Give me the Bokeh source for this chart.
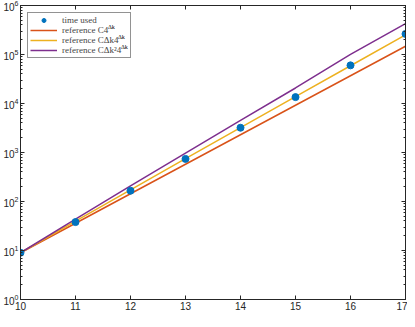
from bokeh.plotting import figure
from bokeh.models import (LogAxis, LinearAxis, LogTicker, FixedTicker, Legend, LegendItem,
                          Range1d, CustomJSTickFormatter, Label)
from bokeh.embed import file_html
from bokeh.resources import INLINE

k = [10, 11, 12, 13, 14, 15, 16, 17]
time_used = [9, 38, 166, 740, 3200, 13500, 60000, 263000]
ref_4k = [9, 36, 144, 576, 2304, 9216, 36864, 147456]
ref_k4k = [9, 39.6, 172.8, 748.8, 3225.6, 13824, 58982, 250675]
ref_k24k = [9, 43.56, 207.36, 973.44, 4515.84, 20736, 100270, 426148]

labels = ["time used", "reference C4", "reference C\u0394k4", "reference C\u0394k\u00b24"]
sup_text = "\u0394k"

BLUE = "#0072BD"
ORANGE = "#D95319"
YELLOW = "#EDB120"
PURPLE = "#7E2F8E"

FW, FH = 385, 294
p = figure(frame_width=FW, frame_height=FH, output_backend="svg", toolbar_location=None,
           y_axis_type="log", x_range=Range1d(10, 17), y_range=Range1d(1, 1e6),
           min_border_left=0, min_border_right=2, min_border_top=5, min_border_bottom=0)
p.outline_line_color = "#262626"
p.outline_line_width = 0.8
p.grid.visible = False
p.background_fill_color = "white"

r1 = p.line(k, ref_4k, line_color=ORANGE, line_width=1.5)
r2 = p.line(k, ref_k4k, line_color=YELLOW, line_width=1.5)
r3 = p.line(k, ref_k24k, line_color=PURPLE, line_width=1.5)
r0 = p.scatter(k, time_used, size=7, marker="circle", fill_color=BLUE, line_color=BLUE)

for ax in p.xaxis:
    ax.ticker = FixedTicker(ticks=k)
for ax in p.yaxis:
    ax.ticker = LogTicker(num_minor_ticks=10)

def style(ax):
    ax.axis_line_color = "#262626"
    ax.major_tick_in = 4
    ax.major_tick_out = 0
    ax.minor_tick_in = 2
    ax.minor_tick_out = 0
    ax.major_tick_line_color = "#262626"
    ax.minor_tick_line_color = "#262626"
    ax.major_label_text_font = "Liberation Sans"
    ax.major_label_text_font_size = "10px"
    ax.major_label_text_color = "#262626"
    ax.major_label_standoff = 2

for ax in p.xaxis + p.yaxis:
    style(ax)

ra = LogAxis(ticker=LogTicker(num_minor_ticks=10), formatter=CustomJSTickFormatter(code="return '';"))
style(ra)
ra.major_label_standoff = 0
p.add_layout(ra, "right")
ta = LinearAxis(ticker=FixedTicker(ticks=k), formatter=CustomJSTickFormatter(code="return '';"))
style(ta)
ta.major_label_standoff = 0
p.add_layout(ta, "above")

legend = Legend(items=[LegendItem(label=labels[0], renderers=[r0]),
                       LegendItem(label=labels[1], renderers=[r1]),
                       LegendItem(label=labels[2], renderers=[r2]),
                       LegendItem(label=labels[3], renderers=[r3])],
                location="top_left")
legend.label_text_font = "Liberation Serif"
legend.label_text_font_size = "9px"
legend.label_height = 10
legend.glyph_height = 10
legend.glyph_width = 27
legend.label_width = 66
legend.spacing = 0
legend.padding = 2
legend.margin = 7
legend.label_standoff = 5
legend.border_line_color = "#262626"
legend.border_line_width = 0.8
legend.background_fill_alpha = 0.0
p.add_layout(legend)

# superscript "Δk" after each reference label (positions in frame pixels)
px_x = FW / 7.0
px_dec = FH / 6.0
sup_px = [(87.5, 21), (97.5, 31), (100.5, 41)]
for sx, sy in sup_px:
    p.add_layout(Label(x=10 + sx / px_x, y=10 ** (6 - sy / px_dec), text=sup_text,
                       text_font="Liberation Serif", text_font_size="6px",
                       text_baseline="middle", text_align="left", text_color="black",
                       level="overlay"))

file = open("out.html", "w")
file.write(file_html(p, INLINE))
file.close()
